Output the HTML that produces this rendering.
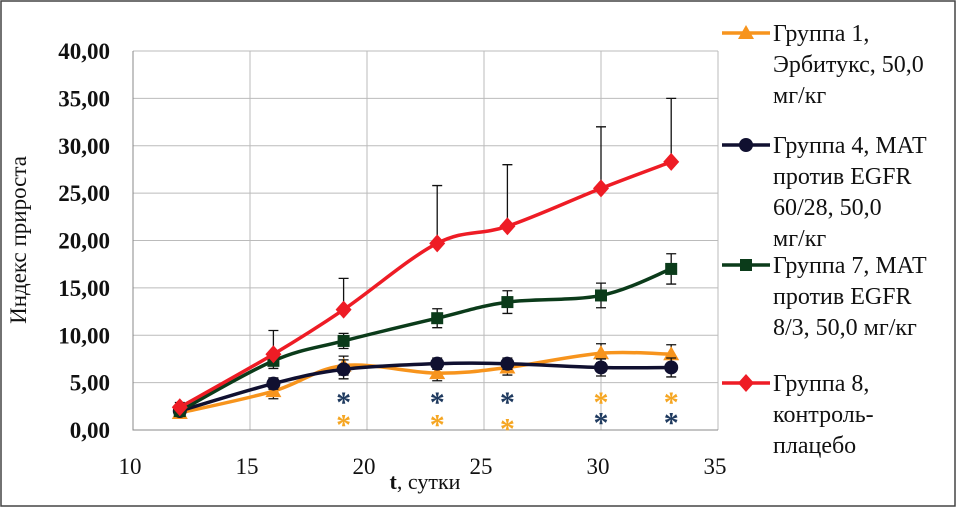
<!DOCTYPE html>
<html><head><meta charset="utf-8"><style>
html,body{margin:0;padding:0;background:#fff}
body{width:956px;height:507px;overflow:hidden;position:relative}
svg{position:absolute;left:0;top:0;font-family:"Liberation Serif","Times New Roman","DejaVu Serif",serif}
svg text{font-family:"Liberation Serif","Times New Roman","DejaVu Serif",serif}
</style></head><body>
<svg id="c" width="956" height="507" font-family="Liberation Serif, Times New Roman, DejaVu Serif, serif">
<rect x="1" y="1" width="954" height="505" fill="#fff" stroke="#444" stroke-width="1.5"/>
<g id="grid"></g><g id="series"></g><g id="stars"></g><g id="legend"></g>
<text x="26" y="240" transform="rotate(-90 26 240)" text-anchor="middle" font-size="23" fill="#111">Индекс прироста</text>
<text x="425" y="489" text-anchor="middle" font-size="22" fill="#111"><tspan font-weight="bold">t</tspan>, сутки</text>
</svg>
<script>
const days=[12,16,19,23,26,30,33];
const g1=[1.8,4.1,6.8,6.0,6.6,8.1,8.0];
const g1err=[0.5,0.8,1.0,0.8,0.8,1.0,1.0];
const g4=[2.0,4.9,6.4,7.0,7.0,6.6,6.6];
const g4err=[0.5,0.6,1.0,0.6,0.6,0.9,1.0];
const g7=[2.0,7.3,9.4,11.8,13.5,14.2,17.0];
const g7err=[0.5,0.8,0.8,1.0,1.2,1.3,1.6];
const g8=[2.4,8.0,12.7,19.7,21.5,25.5,28.3];
const g8err=[0.5,2.5,3.3,6.1,6.5,6.5,6.7];
const yTicks=[0,5,10,15,20,25,30,35,40];
const yLabels=["0,00","5,00","10,00","15,00","20,00","25,00","30,00","35,00","40,00"];
const xTicks=[10,15,20,25,30,35];
const starDays=[19,23,26,30,33];
const starNavyY=[3.4,3.4,3.4,1.2,1.2];
const starOrangeY=[1.0,1.0,0.6,3.4,3.4];

const NS="http://www.w3.org/2000/svg";
const X=v=>133+(v-10)*23.4, Y=v=>430-v*9.475;
function mk(tag,attrs,parent){const e=document.createElementNS(NS,tag);for(const k in attrs)e.setAttribute(k,attrs[k]);parent.appendChild(e);return e;}
const grid=document.getElementById('grid');
yTicks.forEach((t,i)=>{
 const l=mk('line',{x1:X(10),x2:X(35),y1:Y(t),y2:Y(t),stroke:'#bbb','stroke-width':1},grid);
 
 
 const tx=mk('text',{x:110,y:Y(t)+8,'text-anchor':'end','font-size':23,'font-weight':'bold',fill:'#111'},grid);
 tx.textContent=yLabels[i];
 
 
});
xTicks.forEach(t=>{
 const l=mk('line',{x1:X(t),x2:X(t),y1:Y(40),y2:Y(0),stroke:'#bbb','stroke-width':1},grid);
 
 
 const tx=mk('text',{x:X(t)-3,y:474,'text-anchor':'middle','font-size':23,fill:'#111'},grid);
 tx.textContent=t;
 
 
});
const ax=mk('path',{d:`M${X(10)} ${Y(40)}V${Y(0)}H${X(35)}`,stroke:'#888',fill:'none'},grid);



function smooth(pts){let d=`M${pts[0][0]} ${pts[0][1]}`;for(let i=0;i<pts.length-1;i++){const p0=pts[i-1]||pts[i],p1=pts[i],p2=pts[i+1],p3=pts[i+2]||p2;const t=0.17;d+=`C${p1[0]+(p2[0]-p0[0])*t} ${p1[1]+(p2[1]-p0[1])*t} ${p2[0]-(p3[0]-p1[0])*t} ${p2[1]-(p3[1]-p1[1])*t} ${p2[0]} ${p2[1]}`;}return d;}
const sg=document.getElementById('series');
function marker(par,shape,x,y,c){
 if(shape==='tri')return mk('path',{d:`M${x} ${y-8}L${x+8} ${y+6}L${x-8} ${y+6}Z`,fill:c},par);
 if(shape==='circ')return mk('circle',{cx:x,cy:y,r:7,fill:c},par);
 if(shape==='sq')return mk('rect',{x:x-6,y:y-6,width:12,height:12,fill:c},par);
 return mk('path',{d:`M${x} ${y-9}L${x+8} ${y}L${x} ${y+9}L${x-8} ${y}Z`,fill:c},par);
}
const defs=[['group-1',g1,g1err,'#f7941d','tri',false],['group-4',g4,g4err,'#101030','circ',false],['group-7',g7,g7err,'#0b3b1a','sq',false],['group-8',g8,g8err,'#ee1c25','dia',true]];
defs.forEach(([name,vals,err,c,shape,upOnly])=>{
 const grp=mk('g',{},sg);
 
 
 vals.forEach((v,i)=>{
  const x=X(days[i]),top=Y(v+err[i]),bot=upOnly?Y(v):Y(v-err[i]);
  const e=mk('path',{d:`M${x} ${top}V${bot}M${x-5} ${top}H${x+5}`+(upOnly?'':`M${x-5} ${bot}H${x+5}`),stroke:'#111','stroke-width':1.3,fill:'none'},grp);
  
  
 });
 const ln=mk('path',{d:smooth(vals.map((v,i)=>[X(days[i]),Y(v)])),stroke:c,'stroke-width':3.5,fill:'none'},grp);
 
 
 vals.forEach((v,i)=>{
  const m=marker(grp,shape,X(days[i]),Y(v),c);
  
  
 });
});
const st=document.getElementById('stars');
starDays.forEach((d,i)=>{
 [[starNavyY[i],'#1f3a5f'],[starOrangeY[i],'#f5a623']].forEach(([v,c])=>{
  const t=mk('text',{x:X(d),y:Y(v)+14,'text-anchor':'middle','font-size':30,'font-weight':'bold',fill:c},st);
  t.textContent='*';
  
  
 });
});
const lg=document.getElementById('legend');
const legItems=[[defs[0],33,["Группа 1,","Эрбитукс, 50,0","мг/кг"]],[defs[1],145,["Группа 4, МАТ","против EGFR","60/28, 50,0","мг/кг"]],[defs[2],265,["Группа 7, МАТ","против EGFR","8/3, 50,0 мг/кг"]],[defs[3],383,["Группа 8,","контроль-","плацебо"]]];
legItems.forEach(([d,y,lines])=>{
 const grp=mk('g',{},lg);
 
 
 mk('line',{x1:722,x2:770,y1:y,y2:y,stroke:d[3],'stroke-width':3.5},grp);
 marker(grp,d[4],746,y,d[3]);
 lines.forEach((s,k)=>{const t=mk('text',{x:773,y:y+8+k*31,'font-size':24,fill:'#111'},grp);t.textContent=s;});
});
</script>
</body></html>
